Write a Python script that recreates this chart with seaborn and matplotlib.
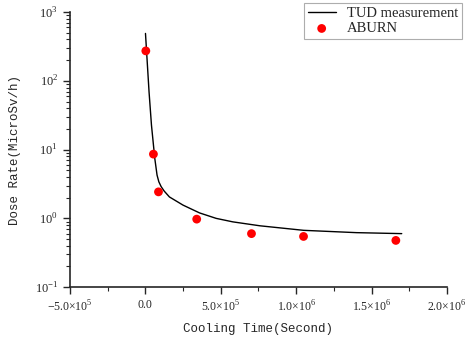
import numpy as np
import pandas as pd
import matplotlib
matplotlib.use("Agg")
import matplotlib.pyplot as plt
import matplotlib.ticker as mticker
import seaborn as sns

# TUD measurement (line)
tud_time = [1.3e3, 2.5e4, 4.1e4, 6.3e4, 7.8e4, 9.0e4, 1.05e5, 1.25e5, 1.6e5, 2.5e5, 3.6e5,
            4.7e5, 5.8e5, 7.6e5, 1.05e6, 1.4e6, 1.7e6]
tud_dose = [490, 69, 22.7, 7.45, 4.26, 3.4, 2.9, 2.5, 2.05, 1.56, 1.20,
            1.0, 0.89, 0.78, 0.67, 0.62, 0.60]

# ABURN (points)
aburn_time = [3.6e3, 5.4e4, 8.75e4, 3.41e5, 7.04e5, 1.049e6, 1.661e6]
aburn_dose = [273, 8.6, 2.43, 0.975, 0.60, 0.546, 0.478]

xticks = [-5e5, 0, 5e5, 1e6, 1.5e6, 2e6]
xtick_labels = ["\u22125.0\u00d710$^5$", "0.0", "5.0\u00d710$^5$", "1.0\u00d710$^6$",
                "1.5\u00d710$^6$", "2.0\u00d710$^6$"]
yticks = [1e-1, 1e0, 1e1, 1e2, 1e3]
ytick_labels = ["10$^{-1}$", "10$^{0}$", "10$^{1}$", "10$^{2}$", "10$^{3}$"]

sns.set_style("ticks")
plt.rcParams['mathtext.fontset'] = 'custom'
plt.rcParams['mathtext.rm'] = 'Liberation Serif'
plt.rcParams['font.family'] = ['Liberation Mono', 'DejaVu Sans']

fig = plt.figure(figsize=(4.72, 3.37), dpi=100)
ax = fig.add_axes([0.148, 0.148, 0.799, 0.816])

df_line = pd.DataFrame({"t": tud_time, "d": tud_dose})
df_pts = pd.DataFrame({"t": aburn_time, "d": aburn_dose})

sns.lineplot(data=df_line, x="t", y="d", ax=ax, color="black", linewidth=1.0,
             label="TUD measurement")
sns.scatterplot(data=df_pts, x="t", y="d", ax=ax, color="#ff0000", s=40,
                edgecolor="none", label="ABURN", zorder=3)

ax.set_yscale("log")
ax.set_xlim(-5e5, 2e6)
ax.set_ylim(1e-1, 1e3)
ax.set_xticks(xticks)
ax.set_xticklabels(xtick_labels, fontsize=8.5, family="Liberation Serif")
ax.xaxis.set_minor_locator(mticker.MultipleLocator(2.5e5))
ax.set_yticks(yticks)
ax.set_yticklabels(ytick_labels, fontsize=9, family="Liberation Serif")
ax.yaxis.set_minor_locator(mticker.LogLocator(base=10, subs=np.arange(2, 10), numticks=20))
ax.yaxis.set_minor_formatter(mticker.NullFormatter())

ax.tick_params(axis="both", which="major", direction="out", length=5, width=1)
ax.tick_params(axis="both", which="minor", direction="out", length=3, width=0.8)
for s in ["left", "bottom"]:
    ax.spines[s].set_linewidth(1.2)
sns.despine(ax=ax)

ax.set_xlabel("Cooling Time(Second)", fontsize=9, labelpad=6)
ax.set_ylabel("Dose Rate(MicroSv/h)", fontsize=9, labelpad=10)

leg = ax.legend(loc="upper right", bbox_to_anchor=(0.979, 0.991),
                bbox_transform=fig.transFigure,
                prop={"family": "Liberation Serif", "size": 10.5},
                frameon=True, fancybox=False, edgecolor="#999999",
                borderpad=0.25, handlelength=1.9, labelspacing=0.15,
                handletextpad=0.8, borderaxespad=0)
leg.get_frame().set_linewidth(0.8)

fig.savefig("out.png", dpi=100)
